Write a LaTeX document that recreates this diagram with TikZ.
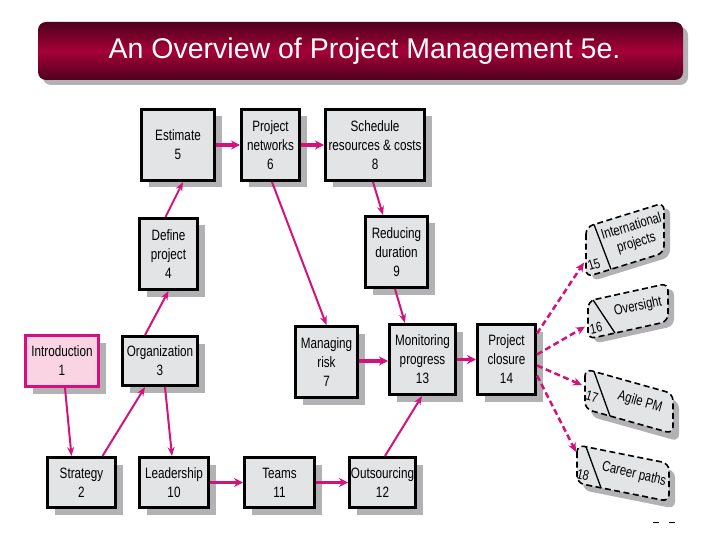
\documentclass[tikz,border=0pt]{standalone}
\usepackage{fontspec}
\setmainfont[FakeStretch=0.78]{Liberation Sans}
\newfontfamily\titlefont{Liberation Sans}
\usetikzlibrary{arrows.meta,shadows,calc}
\definecolor{mag}{RGB}{212,18,126}
\definecolor{boxfill}{RGB}{227,228,230}
\definecolor{shad}{RGB}{178,178,180}
\definecolor{introfill}{RGB}{250,212,226}
\definecolor{tdark}{RGB}{78,0,28}
\definecolor{tmid}{RGB}{165,0,56}
\begin{document}
\begin{tikzpicture}[x=1pt,y=-1pt,
  pbox/.style={draw=black, line width=3pt, fill=boxfill, align=center, inner sep=0pt,
    font=\fontsize{15}{19}\selectfont,
    drop shadow={shadow xshift=7pt,shadow yshift=-7pt,fill=shad,opacity=1}},
  arr/.style={draw=mag, line width=2pt, -{Stealth[length=9pt,width=7pt]}},
  harr/.style={draw=mag, line width=3.5pt, -{Stealth[length=9pt,width=9pt]}},
  darr/.style={draw=mag, line width=2.5pt, dash pattern=on 6pt off 3.5pt, -{Stealth[length=9pt,width=8pt]}},
  dbox/.style={draw=black, line width=1.6pt, dash pattern=on 6pt off 3.5pt, fill=boxfill, rounded corners=7pt},
  dshad/.style={fill=shad, rounded corners=7pt},
  dline/.style={draw=black, line width=1.3pt},
  dtext/.style={font=\fontsize{14.5}{17}\selectfont, align=center, inner sep=0pt},
  dnum/.style={font=\fontsize{14}{14}\selectfont, inner sep=0pt},
  ]
\fill[white] (0,0) rectangle (720,540);
\useasboundingbox (0,0) rectangle (720,540);

% title bar
\node[minimum width=645pt, minimum height=58pt, rounded corners=8pt,
  top color=tdark, bottom color=tdark, middle color=tmid,
  drop shadow={shadow xshift=5pt,shadow yshift=-5pt,fill=shad,opacity=1},
  text=white, font=\titlefont\fontsize{28.5}{30}\selectfont] (title) at (360.5,51)
  {\hspace*{8pt}An Overview of Project Management 5e.};

% boxes
\node[pbox, minimum width=73pt, minimum height=71pt] (e5) at (178,145) {Estimate\\5};
\node[pbox, minimum width=58pt, minimum height=71pt] (n6) at (270.5,145) {Project\\networks\\6};
\node[pbox, minimum width=99pt, minimum height=71pt] (s8) at (375,145) {Schedule\\resources \& costs\\8};
\node[pbox, minimum width=58pt, minimum height=71pt] (d4) at (168.5,254) {Define\\project\\4};
\node[pbox, minimum width=62pt, minimum height=71pt] (r9) at (396.5,252) {Reducing\\duration\\9};
\node[pbox, draw=mag, fill=introfill, minimum width=73pt, minimum height=51pt] (i1) at (62,361) {Introduction\\1};
\node[pbox, minimum width=75pt, minimum height=49pt] (o3) at (160,361) {Organization\\3};
\node[pbox, minimum width=62pt, minimum height=71pt] (m7) at (326.5,362) {Managing\\risk\\7};
\node[pbox, minimum width=66pt, minimum height=70pt] (p13) at (422.5,359.5) {Monitoring\\progress\\13};
\node[pbox, minimum width=58pt, minimum height=70pt] (c14) at (506.5,359.5) {Project\\closure\\14};
\node[pbox, minimum width=68pt, minimum height=50pt] (s2) at (81.5,482.5) {Strategy\\2};
\node[pbox, minimum width=69pt, minimum height=50pt] (l10) at (174,482.5) {Leadership\\10};
\node[pbox, minimum width=70pt, minimum height=50pt] (t11) at (279.5,482.5) {Teams\\11};
\node[pbox, minimum width=66pt, minimum height=50pt] (o12) at (382.5,482.5) {Outsourcing\\12};

% dashed skewed boxes
\begin{scope}[shift={(586,252)}, yslant=0.31]
  \fill[dshad] (6,-19) rectangle (84,31);
  \draw[dbox] (0,-25) rectangle (78,25);
  \draw[dline] (8,-25) -- (25,25);
  \node[dtext, rotate=17] (t15) at (48,-2) {International\\projects};
  \node[dnum, rotate=17] (n15) at (8,15) {15};
  \coordinate (b15) at (-2,10);
\end{scope}
\begin{scope}[shift={(588,320)}, yslant=0.22]
  \fill[dshad] (6,-13) rectangle (86,25);
  \draw[dbox] (0,-19) rectangle (80,19);
  \draw[dline] (5,-19) -- (27,19);
  \node[dtext, rotate=12] (t16) at (50,-2) {Oversight};
  \node[dnum, rotate=12] (n16) at (8,10) {16};
  \coordinate (b16) at (-3,6);
\end{scope}
\begin{scope}[shift={(585,389)}, yslant=-0.28]
  \fill[dshad] (6,-14) rectangle (94,26);
  \draw[dbox] (0,-20) rectangle (88,20);
  \draw[dline] (9,-20) -- (25,20);
  \node[dtext, rotate=-16] (t17) at (55,-2) {Agile PM};
  \node[dnum, rotate=-16] (n17) at (7,6) {17};
  \coordinate (b17) at (-3,-3);
\end{scope}
\begin{scope}[shift={(577,464)}, yslant=-0.2]
  \fill[dshad] (6,-13) rectangle (98,25);
  \draw[dbox] (0,-19) rectangle (92,19);
  \draw[dline] (9,-19) -- (24,19);
  \node[dtext, rotate=-13] (t18) at (57,-1) {Career paths};
  \node[dnum, rotate=-13] (n18) at (6,10) {18};
  \coordinate (b18) at (-1,-12);
\end{scope}

% solid connectors
\draw[arr] ([xshift=3pt]i1.south) -- ([xshift=-10pt]s2.north);
\draw[arr] ([xshift=21pt]s2.north) -- ([xshift=-15pt]o3.south);
\draw[arr] ([xshift=-15pt]o3.north) -- (d4.south);
\draw[arr] ([xshift=5pt]o3.south) -- ([xshift=-2pt]l10.north);
\draw[arr] ([xshift=-3pt]d4.north) -- ([xshift=5pt]e5.south);
\draw[harr] (e5.east) -- (n6.west);
\draw[harr] (n6.east) -- (s8.west);
\draw[arr] ([xshift=1.5pt]n6.south) -- (m7.north);
\draw[arr] ([xshift=-2pt]s8.south) -- ([xshift=-13.5pt]r9.north);
\draw[arr] ([xshift=-1.5pt]r9.south) -- ([xshift=-17.5pt]p13.north);
\draw[harr] ([yshift=1pt]m7.east) -- ([yshift=-1.5pt]p13.west);
\draw[harr] (p13.east) -- (c14.west);
\draw[harr] (l10.east) -- (t11.west);
\draw[harr] (t11.east) -- (o12.west);
\draw[arr] ([xshift=2.5pt]o12.north) -- ([xshift=-0.5pt]p13.south);

% dashed connectors
\draw[darr] ([yshift=26pt]c14.east) -- (b15);
\draw[darr] ([yshift=5pt]c14.east) -- (b16);
\draw[darr] ([yshift=-6pt]c14.east) -- (b17);
\draw[darr] ([yshift=-16pt]c14.east) -- (b18);

% small marks
\draw[line width=0.8pt] (653,522) -- (659,522);
\draw[line width=0.8pt] (669,522) -- (675,522);
\end{tikzpicture}
\end{document}
